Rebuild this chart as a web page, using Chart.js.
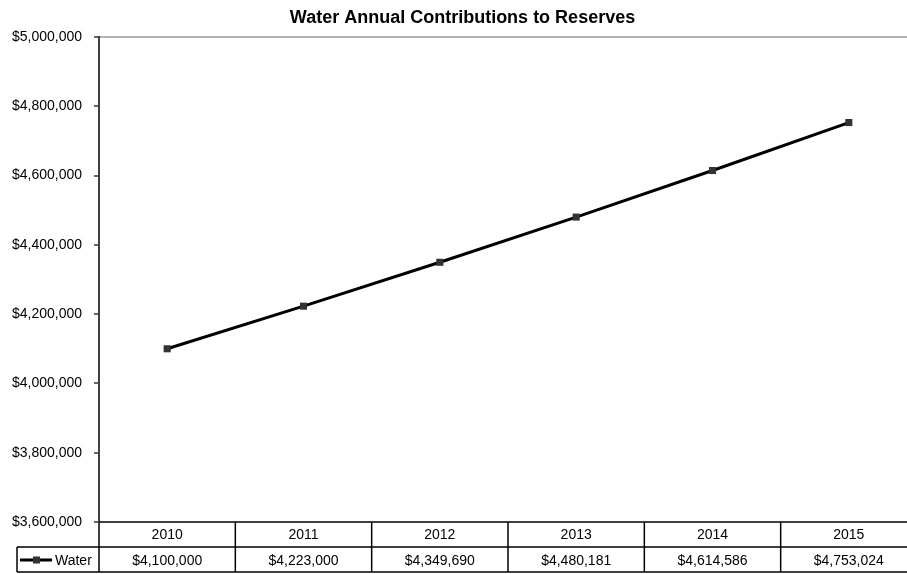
<!DOCTYPE html>
<html>
<head>
<meta charset="utf-8">
<script src="https://cdn.jsdelivr.net/npm/chart.js@4/dist/chart.umd.min.js"></script>
<style>
  html, body { margin: 0; padding: 0; background: #fff; overflow: hidden; width: 907px; height: 574px; }
  #wrap { position: absolute; left: 0; top: 0; width: 922px; height: 574px; }
  canvas { display: block; }
</style>
</head>
<body>
<div id="wrap"><canvas id="c" width="922" height="574"></canvas></div>
<script>
const chartTitle = 'Water Annual Contributions to Reserves';
const categories = ['2010', '2011', '2012', '2013', '2014', '2015'];
const seriesName = 'Water';
const waterValues = [4100000, 4223000, 4349690, 4480181, 4614586, 4753024];
const yMin = 3600000;
const yMax = 5000000;
const yStep = 200000;

const FONT = "'Liberation Sans', Arial, sans-serif";
const money = v => '$' + Number(v).toLocaleString('en-US');

const titlePlugin = {
  id: 'customTitle',
  afterDraw(chart) {
    const ctx = chart.ctx;
    ctx.save();
    ctx.font = 'bold 18px ' + FONT;
    ctx.fillStyle = '#000';
    ctx.textAlign = 'center';
    ctx.textBaseline = 'alphabetic';
    ctx.fillText(chartTitle, 462.5, 23);
    ctx.restore();
  }
};

const tablePlugin = {
  id: 'dataTable',
  afterDraw(chart) {
    const ctx = chart.ctx;
    const xs = chart.scales.x;
    const area = chart.chartArea;
    const n = categories.length;
    const colW = (area.right - area.left) / n;
    const top = area.bottom;
    const mid = top + 25;
    const bot = top + 50;
    const legendLeft = 17;
    ctx.save();
    ctx.strokeStyle = '#000';
    ctx.lineWidth = 1.5;
    ctx.beginPath();
    ctx.moveTo(area.left, top); ctx.lineTo(area.right + 10, top);
    ctx.moveTo(legendLeft, mid); ctx.lineTo(area.right + 10, mid);
    ctx.moveTo(legendLeft, bot); ctx.lineTo(area.right + 10, bot);
    ctx.moveTo(legendLeft, mid); ctx.lineTo(legendLeft, bot);
    for (let i = 0; i <= n; i++) {
      const x = area.left + i * colW;
      ctx.moveTo(x, top); ctx.lineTo(x, bot);
    }
    ctx.stroke();

    ctx.fillStyle = '#000';
    ctx.font = '14px ' + FONT;
    ctx.textAlign = 'center';
    ctx.textBaseline = 'middle';
    categories.forEach((c, i) => {
      const cx = xs.getPixelForValue(i);
      ctx.fillText(c, cx, top + 13);
      ctx.fillText(money(waterValues[i]), cx, mid + 14);
    });

    // legend key
    const ly = mid + 13;
    ctx.strokeStyle = '#000';
    ctx.lineWidth = 3;
    ctx.beginPath();
    ctx.moveTo(20, ly); ctx.lineTo(52, ly);
    ctx.stroke();
    ctx.fillStyle = '#333';
    ctx.fillRect(33, ly - 3.5, 7, 7);
    ctx.fillStyle = '#000';
    ctx.textAlign = 'left';
    ctx.fillText(seriesName, 55, mid + 14);
    ctx.restore();
  }
};

new Chart(document.getElementById('c'), {
  type: 'line',
  data: {
    labels: categories,
    datasets: [{
      label: seriesName,
      data: waterValues,
      borderColor: '#000',
      borderWidth: 3,
      pointStyle: 'rect',
      pointRadius: 5,
      pointBackgroundColor: '#333',
      pointBorderColor: '#333',
      pointBorderWidth: 0,
      tension: 0,
      fill: false
    }]
  },
  options: {
    responsive: false,
    animation: false,
    devicePixelRatio: 1,
    layout: { padding: { left: 0, right: 4, top: 37, bottom: 2 } },
    plugins: {
      legend: { display: false },
      title: { display: false },
      tooltip: { enabled: false }
    },
    scales: {
      x: {
        type: 'category',
        offset: true,
        grid: { display: false, drawTicks: false },
        border: { display: false },
        ticks: { display: false },
        afterFit(scale) { scale.height = 50; }
      },
      y: {
        min: yMin,
        max: yMax,
        ticks: {
          stepSize: yStep,
          padding: 12,
          color: '#000',
          font: { family: FONT, size: 14 },
          callback: v => money(v)
        },
        grid: {
          drawTicks: true,
          tickLength: 5,
          tickColor: '#333',
          tickWidth: 1.5,
          color: ctx => (ctx.tick && ctx.tick.value === yMax) ? '#b3b3b3' : 'rgba(0,0,0,0)',
          lineWidth: ctx => (ctx.tick && ctx.tick.value === yMax) ? 2 : 0
        },
        border: { display: true, color: '#404040', width: 2 },
        afterFit(scale) { scale.width = 99; }
      }
    }
  },
  plugins: [titlePlugin, tablePlugin]
});
</script>
</body>
</html>
